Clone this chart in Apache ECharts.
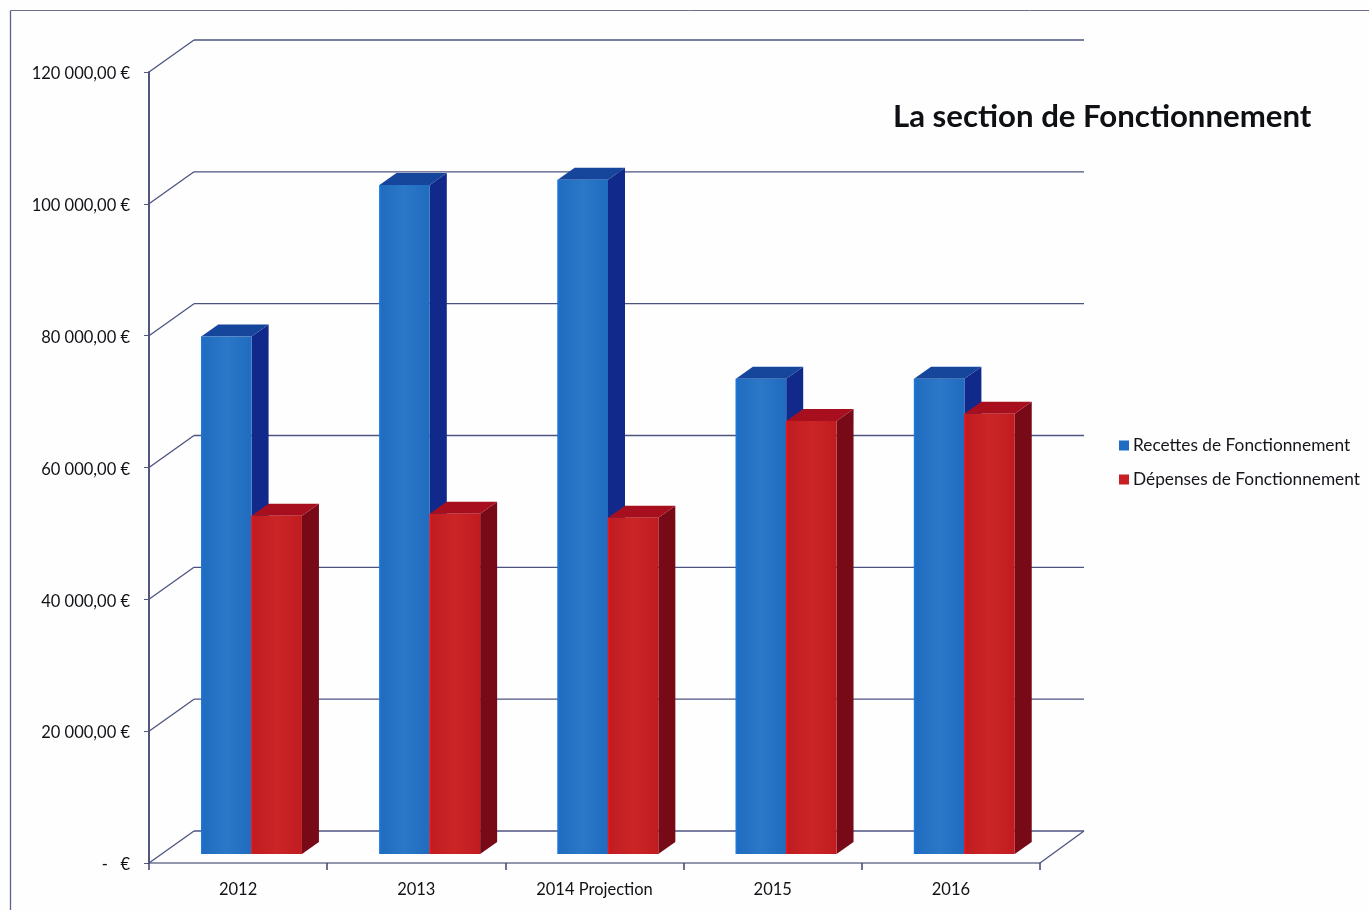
<!DOCTYPE html>
<html><head><meta charset="utf-8">
<style>html,body{margin:0;padding:0;background:#fff}#c{width:1369px;height:910px}</style>
<script src="https://cdn.jsdelivr.net/npm/echarts@6/dist/echarts.min.js"></script>
</head><body><div id="c"></div>
<script>
const categories = ['2012','2013','2014 Projection','2015','2016'];
const recettes = [78500,101500,102300,72100,72100];
const depenses = [51300,51600,51000,65700,66800];
const yTicks = [0,20000,40000,60000,80000,100000,120000];
const yTickLabels = ['-   €','20 000,00 €','40 000,00 €','60 000,00 €','80 000,00 €','100 000,00 €','120 000,00 €'];
const FONT = 'Lato, "Open Sans", sans-serif';
const chart = echarts.init(document.getElementById('c'), null, {renderer:'canvas'});

const D = {wx:45, wy:-32, bx:13.5, by:-9, sx:17, sy:-12};

function bar3d(side, front, top, right, edge){
  return function(params, api){
    const c = api.coord([api.value(0), api.value(1)]);
    const base = api.coord([api.value(0), 0]);
    const bw = api.size([1,0])[0] * 0.2825;
    const x0 = c[0] + D.bx + (side < 0 ? -bw : 0);
    const x1 = x0 + bw;
    const yT = c[1] + D.by;
    const yB = base[1] + D.by;
    return {type:'group', children:[
      {type:'polygon', shape:{points:[[x1,yT],[x1+D.sx,yT+D.sy],[x1+D.sx,yB+D.sy],[x1,yB]]}, style:{fill:right}},
      {type:'polygon', shape:{points:[[x0,yT],[x0+D.sx,yT+D.sy],[x1+D.sx,yT+D.sy],[x1,yT]]}, style:{fill:top}},
      {type:'rect', shape:{x:x0,y:yT,width:bw,height:yB-yT},
        style:{fill:new echarts.graphic.LinearGradient(0,0,1,0,[{offset:0,color:front[0]},{offset:.5,color:front[1]},{offset:1,color:front[0]}])}},
      {type:'line', shape:{x1:x0+.5,y1:yT,x2:x0+.5,y2:yB}, style:{stroke:edge,lineWidth:1.5}}
    ]};
  };
}

const wallData = yTicks.map(v => [0, v]);
chart.setOption({
  animation:false,
  backgroundColor:'#fefefe',
  textStyle:{fontFamily:FONT},
  grid:{left:149, top:72, width:891, height:791, containLabel:false},
  title:{text:'La section de Fonctionnement', left:893, top:101, padding:0,
    textStyle:{fontFamily:FONT,fontWeight:'bold',fontSize:31.2,color:'#0e1014'}},
  legend:{orient:'vertical', left:1119, top:437, padding:0, itemWidth:10, itemHeight:10, itemGap:17,
    icon:'rect', data:['Recettes de Fonctionnement','Dépenses de Fonctionnement'],
    textStyle:{fontFamily:FONT,fontSize:17.3,color:'#14161b',padding:[0,0,0,-1]}},
  xAxis:{type:'category', data:categories, boundaryGap:true,
    axisLine:{lineStyle:{color:'#70768f',width:1.5}},
    axisTick:{show:true,length:7,alignWithLabel:false,lineStyle:{color:'#3c4270',width:1.5}},
    axisLabel:{fontFamily:FONT,fontSize:16.5,color:'#101216',margin:18,interval:0}},
  yAxis:{type:'value', min:0, max:120000, interval:20000,
    axisLine:{show:true,lineStyle:{color:'#50567f',width:2}},
    axisTick:{show:true,length:5,lineStyle:{color:'#50567f'}},
    splitLine:{show:false},
    axisLabel:{fontFamily:FONT,fontSize:16.5,color:'#101216',margin:19,verticalAlign:'top',lineHeight:4,
      formatter:v => yTickLabels[yTicks.indexOf(v)]}},
  series:[
    {type:'custom', name:'wall', silent:true, clip:false, z:1, encode:{x:0,y:1}, data:wallData,
     renderItem:(p,api)=>{
       const a = api.coord([0, api.value(1)]);
       const left = p.coordSys.x, right = p.coordSys.x + p.coordSys.width, y = a[1];
       const kids = [
         {type:'line',shape:{x1:left,y1:y,x2:left+D.wx,y2:y+D.wy},style:{stroke:'#4c5380',lineWidth:1.3}},
         {type:'line',shape:{x1:left+D.wx,y1:y+D.wy,x2:right+D.wx-1,y2:y+D.wy},style:{stroke:'#4c5380',lineWidth:1.3}}
       ];
       if(api.value(1)===0) kids.push({type:'line',shape:{x1:right,y1:y,x2:right+D.wx-1,y2:y+D.wy},style:{stroke:'#4c5380',lineWidth:1.3}});
       return {type:'group',children:kids};
     }},
    {type:'custom', name:'Recettes de Fonctionnement', clip:false, z:2, encode:{x:0,y:1},
     itemStyle:{color:'#1f6cc4'},
     data:recettes.map((v,i)=>[i,v]),
     renderItem:bar3d(-1,['#1f6cc0','#2b78c8'],'#16459c','#12298c','#1b78dc')},
    {type:'custom', name:'Dépenses de Fonctionnement', clip:false, z:3, encode:{x:0,y:1},
     itemStyle:{color:'#c71f22'},
     data:depenses.map((v,i)=>[i,v]),
     renderItem:bar3d(1,['#c01c20','#cb2526'],'#a80f1e','#780a18','#ee1418')}
  ],
  graphic:[
    {type:'line',silent:true,shape:{x1:10.5,y1:10.5,x2:1369,y2:10.5},style:{stroke:'#6b7090',lineWidth:1}},
    {type:'line',silent:true,shape:{x1:10.5,y1:10.5,x2:10.5,y2:910},style:{stroke:'#5c6288',lineWidth:1.3}}
  ]
});
</script></body></html>
